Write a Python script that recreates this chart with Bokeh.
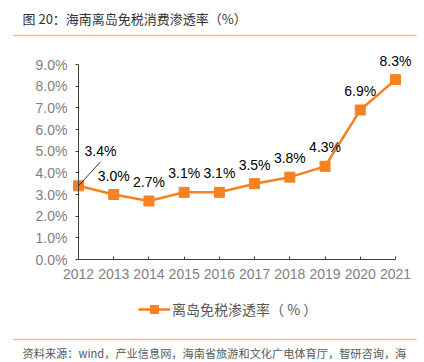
from bokeh.plotting import figure
from bokeh.models import (Range1d, FixedTicker, PrintfTickFormatter, LabelSet, Label,
                          ColumnDataSource, Legend, LegendItem, BoxAnnotation)
from bokeh.core.properties import value
from bokeh.embed import file_html
from bokeh.resources import INLINE

years = [2012, 2013, 2014, 2015, 2016, 2017, 2018, 2019, 2020, 2021]
rates = [3.4, 3.0, 2.7, 3.1, 3.1, 3.5, 3.8, 4.3, 6.9, 8.3]
rate_labels = ["3.4%", "3.0%", "2.7%", "3.1%", "3.1%", "3.5%", "3.8%", "4.3%", "6.9%", "8.3%"]
y_ticks = [0, 1, 2, 3, 4, 5, 6, 7, 8, 9]
title_text = "图 20：海南离岛免税消费渗透率（%）"
series_name = "离岛免税渗透率（ % ）"
source_text = "资料来源：wind，产业信息网，海南省旅游和文化广电体育厅，智研咨询，海"

ORANGE = "#F58220"
RULE = "#F9B98A"
GRAY = "#7F7F7F"
AXIS = "#404040"
CJK = "Noto Sans CJK SC"
LAT = "Liberation Sans"

W, H = 424, 362
# plot area (canvas pixels from the top-left)
ax_left, ax_right = 78, 395
ax_top, ax_bottom = 64, 259
px_x = (ax_right - ax_left) / (years[-1] - years[0])
px_y = (ax_bottom - ax_top) / (y_ticks[-1] - y_ticks[0])

x_range = Range1d(years[0] - ax_left / px_x, years[-1] + (W - ax_right) / px_x)
y_range = Range1d(y_ticks[0] - (H - ax_bottom) / px_y, y_ticks[-1] + ax_top / px_y)

p = figure(frame_width=W, frame_height=H, min_border=0,
           x_range=x_range, y_range=y_range,
           output_backend="svg", toolbar_location=None)
p.outline_line_color = None
p.grid.visible = False
p.background_fill_color = "white"

# axes drawn inside the full-canvas frame
p.yaxis.fixed_location = years[0]
p.yaxis.bounds = (y_ticks[0], y_ticks[-1])
p.yaxis.ticker = FixedTicker(ticks=y_ticks)
p.yaxis.formatter = PrintfTickFormatter(format="%.1f%%")
p.yaxis.major_tick_out = 3
p.yaxis.major_tick_in = 0
p.yaxis.major_label_standoff = 8
p.xaxis.fixed_location = y_ticks[0]
p.xaxis.bounds = (years[0], years[-1])
p.xaxis.ticker = FixedTicker(ticks=years)
p.xaxis.major_tick_in = 3
p.xaxis.major_tick_out = 0
p.xaxis.major_label_standoff = 9
for ax in (p.xaxis, p.yaxis):
    ax.minor_tick_line_color = None
    ax.axis_line_color = AXIS
    ax.major_tick_line_color = AXIS
    ax.major_label_text_color = GRAY
    ax.major_label_text_font = LAT
    ax.major_label_text_font_size = "14px"

src = ColumnDataSource(dict(x=years, y=rates))
ln = p.line("x", "y", source=src, line_color=ORANGE, line_width=2.5)
sc = p.scatter("x", "y", source=src, marker="square", size=10, fill_color=ORANGE,
               line_color=ORANGE)

# data labels (first one uses a leader line)
lsrc = ColumnDataSource(dict(x=years[1:], y=rates[1:], lab=rate_labels[1:]))
p.add_layout(LabelSet(x="x", y="y", text="lab", source=lsrc, y_offset=19,
                      text_align="center", text_baseline="middle",
                      text_font=value(LAT), text_font_size="14px", text_color="#000000"))
p.add_layout(Label(x=years[0], y=rates[0], text=rate_labels[0], x_offset=22, y_offset=35,
                   text_align="center", text_baseline="middle",
                   text_font=LAT, text_font_size="14px", text_color="#000000"))
p.segment(x0=[years[0]], y0=[rates[0]],
          x1=[years[0] + 22 / px_x], y1=[rates[0] + 24 / px_y],
          line_color="#000000", line_width=0.8)

# legend
leg = Legend(items=[LegendItem(label=series_name, renderers=[ln, sc])],
             location=(138, H - 319), orientation="horizontal", glyph_width=32,
             glyph_height=20, label_standoff=2, padding=0, margin=0,
             border_line_color=None, background_fill_alpha=0,
             label_text_font=CJK, label_text_font_size="14px", label_text_color="#595959")
p.add_layout(leg, "center")

# title, rules, source (screen units from the canvas' bottom-left)
p.add_layout(Label(x=22, y=H - 18, x_units="screen", y_units="screen", text=title_text,
                   text_baseline="middle", text_font=CJK, text_font_size="13px",
                   text_color="#333333"))
p.add_layout(Label(x=22, y=H - 352, x_units="screen", y_units="screen", text=source_text,
                   text_baseline="middle", text_font=CJK, text_font_size="11.2px",
                   text_color="#595959"))
for yy in (H - 35, H - 339):
    p.add_layout(BoxAnnotation(left=13, right=416, bottom=yy - 0.75, top=yy + 0.75,
                               left_units="screen", right_units="screen",
                               bottom_units="screen", top_units="screen",
                               fill_color=RULE, fill_alpha=1, line_color=None))

open("out.html", "w").write(file_html(p, INLINE))
